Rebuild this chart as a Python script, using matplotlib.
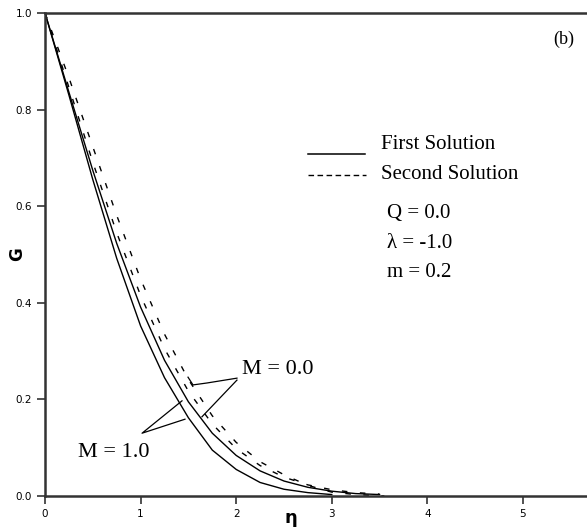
import matplotlib
matplotlib.use("Agg")
import matplotlib.pyplot as plt

# first solution, M = 1.0 (solid, leftmost)
eta_a = [0.0, 0.25, 0.5, 0.75, 1.0, 1.25, 1.5, 1.75, 2.0, 2.25, 2.5, 2.75, 3.0]
g_a = [1.0, 0.830, 0.655, 0.492, 0.352, 0.245, 0.162, 0.095, 0.055, 0.028, 0.014, 0.007, 0.003]

# first solution, M = 0.0 (solid)
eta_b = [0.0, 0.25, 0.5, 0.75, 1.0, 1.25, 1.5, 1.75, 2.0, 2.25, 2.5, 2.75, 3.0, 3.25, 3.5]
g_b = [1.0, 0.836, 0.674, 0.523, 0.391, 0.281, 0.195, 0.130, 0.084, 0.052, 0.031, 0.018, 0.010, 0.005, 0.003]

# second solution, M = 1.0 (dashed)
eta_c = [0.0, 0.25, 0.5, 0.75, 1.0, 1.25, 1.5, 1.75, 2.0, 2.25, 2.5, 2.75, 3.0, 3.25, 3.5]
g_c = [1.0, 0.846, 0.691, 0.545, 0.415, 0.305, 0.217, 0.149, 0.098, 0.063, 0.039, 0.023, 0.013, 0.007, 0.004]

# second solution, M = 0.0 (dashed, rightmost)
eta_d = [0.0, 0.25, 0.5, 0.75, 1.0, 1.25, 1.5, 1.75, 2.0, 2.25, 2.5, 2.75, 3.0, 3.25, 3.55]
g_d = [1.0, 0.866, 0.723, 0.581, 0.449, 0.335, 0.241, 0.166, 0.111, 0.071, 0.044, 0.022, 0.008, 0.003, 0.0]

x_ticks = [0, 1, 2, 3, 4, 5]
y_ticks = [0.0, 0.2, 0.4, 0.6, 0.8, 1.0]

fig = plt.figure(figsize=(5.87, 5.28), dpi=100)
ax = fig.add_axes([0.0767, 0.0606, 0.9233, 0.9148])

ax.plot(eta_a, g_a, color="black", lw=1.0)
ax.plot(eta_b, g_b, color="black", lw=1.0)
ax.plot(eta_c, g_c, color="black", lw=1.0, dashes=(4, 9))
ax.plot(eta_d, g_d, color="black", lw=1.0, dashes=(4, 9))

ax.set_xlim(0, 5.67)
ax.set_ylim(0, 1.0)
ax.set_xticks(x_ticks)
ax.set_xticklabels([str(t) for t in x_ticks])
ax.set_yticks(y_ticks)
ax.set_yticklabels([f"{t:.1f}" for t in y_ticks])
ax.tick_params(direction="out", length=5.5, width=1.2, labelsize=7.5, pad=4, color="#333333")
for s in ["left", "bottom", "top"]:
    ax.spines[s].set_linewidth(1.8)
    ax.spines[s].set_color("#333333")
ax.spines["right"].set_visible(False)

# axis titles
ax.text(-0.052, 0.5, "G", transform=ax.transAxes, fontsize=12, fontweight="bold",
        rotation=90, ha="center", va="center")
ax.text(0.454, -0.046, "η", transform=ax.transAxes, fontsize=13, fontweight="bold",
        ha="center", va="center")

serif = "Liberation Serif"

# legend drawn by hand
ax.plot([0.485, 0.590], [0.708, 0.708], transform=ax.transAxes, color="black", lw=1.1)
ax.plot([0.485, 0.592], [0.665, 0.665], transform=ax.transAxes, color="black", lw=1.0, dashes=(4, 2.5))
ax.text(0.620, 0.727, "First Solution", transform=ax.transAxes, fontsize=15, family=serif, va="center")
ax.text(0.620, 0.665, "Second Solution", transform=ax.transAxes, fontsize=15, family=serif, va="center")
ax.text(0.631, 0.584, "Q = 0.0", transform=ax.transAxes, fontsize=15, family=serif, va="center")
ax.text(0.631, 0.522, "λ = -1.0", transform=ax.transAxes, fontsize=15, family=serif, va="center")
ax.text(0.631, 0.462, "m = 0.2", transform=ax.transAxes, fontsize=15, family=serif, va="center")
ax.text(0.957, 0.946, "(b)", transform=ax.transAxes, fontsize=13, family=serif, va="center", ha="center")

# M labels with leader lines
ax.plot([1.496, 1.548, 1.695, 2.008], [0.246, 0.230, 0.234, 0.244], color="black", lw=0.9)
ax.plot([2.008, 1.642], [0.240, 0.164], color="black", lw=0.9)
ax.text(2.06, 0.261, "M = 0.0", fontsize=16, family=serif, va="center")
ax.plot([1.433, 1.015, 1.464], [0.197, 0.130, 0.159], color="black", lw=0.9)
ax.text(0.345, 0.091, "M = 1.0", fontsize=16, family=serif, va="center")

fig.savefig("out.png", dpi=100)
